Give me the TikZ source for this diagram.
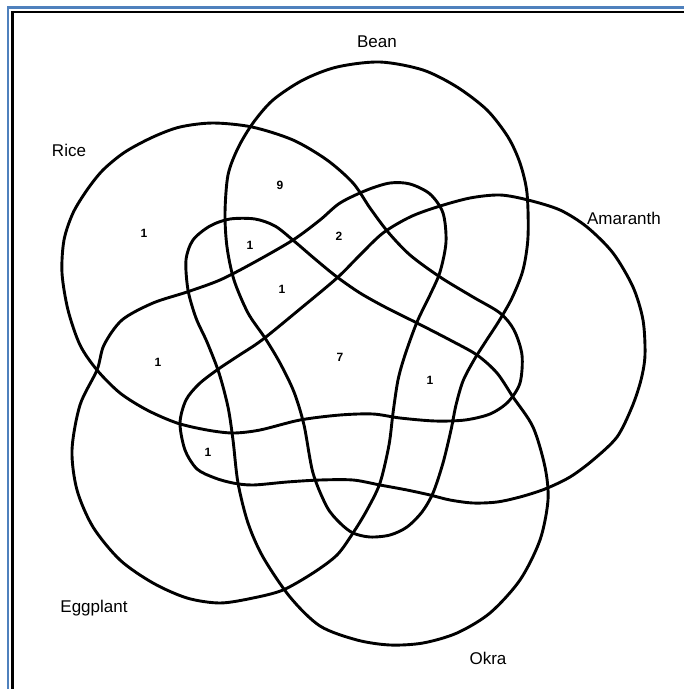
\documentclass[tikz,border=0pt]{standalone}
\usepackage{fontspec}
\setmainfont{Liberation Sans}
\definecolor{frameblue}{RGB}{79,129,189}
\tikzset{
  setcurve/.style={line width=2.9pt, black, line join=round},
  setlabel/.style={font=\fontsize{17}{20}\selectfont, inner sep=0pt},
  count/.style={font=\bfseries\fontsize{12}{14}\selectfont, inner sep=0pt}
}
\begin{document}
\begin{tikzpicture}[x=1pt,y=-1pt]
\useasboundingbox (0,0) rectangle (684,689);
\fill[white] (0,0) rectangle (684,689);
% frame
\draw[frameblue, line width=2.2pt] (8,689) -- (8,7.5) -- (684,7.5);
\draw[black, line width=2.6pt] (12.5,689) -- (12.5,11.8) -- (684,11.8);
% Rice
\draw[setcurve] plot[smooth cycle, tension=0.5] coordinates {
(213,123) (252,127) (293,140) (327,160) (353,183) (370,208) (388,232) (410,255) (440,277) (473,297) (500,313) (514,330) (522,355) (520,383) (508,402) (490,414) (465,420) (435,421) (400,418) (373,414) (340,415) (300,420) (260,430) (233,433) (207,430) (177,423) (147,410) (120,393) (97,370) (80,345) (68,310) (62,273) (64,240) (73,213) (87,190) (103,170) (125,152) (153,137) (180,127)};
% Bean
\draw[setcurve] plot[smooth cycle, tension=0.5] coordinates {
(380,62) (423,70) (457,87) (487,110) (508,137) (520,163) (527,193) (528,237) (523,270) (512,298) (499,321) (486,341) (474,360) (463,381) (456,405) (451,430) (443,463) (433,493) (422,512) (407,527) (390,535) (370,537) (353,533) (340,523) (327,507) (313,473) (304,425) (294,392) (280,363) (265,338) (248,313) (234,280) (227,247) (225,213) (228,175) (238,148) (253,123) (273,100) (303,80) (337,67)};
% Amaranth
\draw[setcurve] plot[smooth cycle, tension=0.5] coordinates {
(437,207) (470,198) (500,195) (528,200) (560,210) (587,227) (613,253) (633,287) (643,320) (645,355) (641,380) (632,407) (617,437) (593,460) (570,477) (545,489) (520,497) (497,502) (473,503) (450,500) (430,495) (407,490) (380,485) (353,480) (320,480) (287,482) (253,485) (233,483) (215,478) (197,469) (185,450) (180,423) (186,400) (199,384) (217,370) (238,356) (262,340) (300,309) (337,278) (360,255) (383,233) (410,217)};
% Eggplant
\draw[setcurve] plot[smooth cycle, tension=0.5] coordinates {
(97,370) (80,405) (72,450) (77,490) (93,527) (120,560) (153,583) (187,598) (220,603) (253,598) (283,590) (313,573) (337,555) (353,533) (367,510) (380,483) (389,445) (393,413) (398,380) (405,355) (417,322) (430,295) (440,272) (446,242) (443,213) (430,194) (410,184) (390,183) (367,190) (340,203) (320,220) (293,240) (253,263) (220,280) (187,292) (153,303) (122,320) (104,345)};
% Okra
\draw[setcurve] plot[smooth cycle, tension=0.5] coordinates {
(513,397) (533,427) (545,467) (548,500) (540,540) (520,580) (490,613) (457,633) (423,643) (390,645) (357,640) (320,626) (290,597) (263,557) (248,523) (238,483) (233,440) (228,407) (219,373) (207,342) (196,318) (188,290) (186,260) (193,240) (210,226) (230,219) (255,219) (275,226) (294,241) (315,259) (337,277) (360,293) (385,307) (417,323) (450,340) (477,355) (497,373)};
% set labels
\node[setlabel] (lbean) at (377,42) {Bean};
\node[setlabel] (lrice) at (69,150) {Rice};
\node[setlabel] (lamar) at (624,218) {Amaranth};
\node[setlabel] (legg) at (94,608) {Eggplant};
\node[setlabel] (lokra) at (488,658) {Okra};
% counts
\node[count] (c1) at (144,233) {1};
\node[count] (c2) at (280,185) {9};
\node[count] (c3) at (250,245) {1};
\node[count] (c4) at (339,236) {2};
\node[count] (c5) at (282,289) {1};
\node[count] (c6) at (158,362) {1};
\node[count] (c7) at (340,357) {7};
\node[count] (c8) at (430,380) {1};
\node[count] (c9) at (208,452) {1};
\end{tikzpicture}
\end{document}
